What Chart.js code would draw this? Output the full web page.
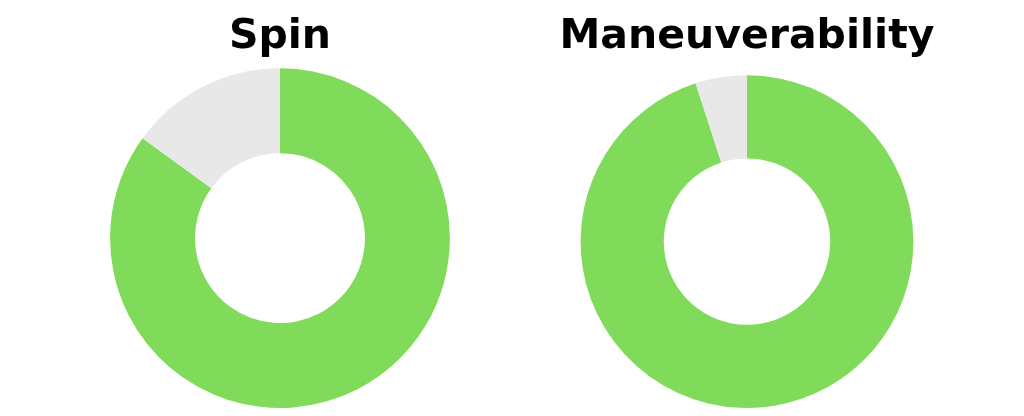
<!DOCTYPE html>
<html>
<head>
<meta charset="utf-8">
<script src="https://cdn.jsdelivr.net/npm/chart.js@4/dist/chart.umd.min.js"></script>
<style>
  html, body { margin: 0; padding: 0; background: #fff; }
  body { width: 1024px; height: 416px; position: relative; overflow: hidden; }
  .ring { position: absolute; top: 0; width: 460px; height: 416px; }
  #spin-wrap { left: 50px; }
  #maneuver-wrap { left: 517px; }
</style>
</head>
<body>
<div class="ring" id="spin-wrap"><canvas id="spin" width="460" height="416"></canvas></div>
<div class="ring" id="maneuver-wrap"><canvas id="maneuver" width="460" height="416"></canvas></div>
<script>
// values (percent of the ring)
var sliceLabels = ["Rating", "Rest"];
var spinValues = [85, 15];
var maneuverValues = [95, 5];
var sliceColors = ["#80db5a", "#e8e8e8"];

function ringChart(id, title, values, titlePad) {
  var canvas = document.getElementById(id);
  return new Chart(canvas, {
    type: "doughnut",
    data: {
      labels: sliceLabels,
      datasets: [{
        data: values,
        backgroundColor: sliceColors,
        borderWidth: 0
      }]
    },
    options: {
      responsive: false,
      animation: false,
      cutout: "50%",
      layout: { padding: { bottom: 8 } },
      plugins: {
        legend: { display: false },
        tooltip: { enabled: false },
        title: {
          display: true,
          text: title,
          color: "#000",
          font: { family: "DejaVu Sans", size: 41, weight: "bold", lineHeight: 1.2 },
          padding: titlePad
        }
      }
    }
  });
}

ringChart("spin", "Spin", spinValues, { top: 13, bottom: 6 });
ringChart("maneuver", "Maneuverability", maneuverValues, { top: 13, bottom: 13 });
</script>
</body>
</html>
